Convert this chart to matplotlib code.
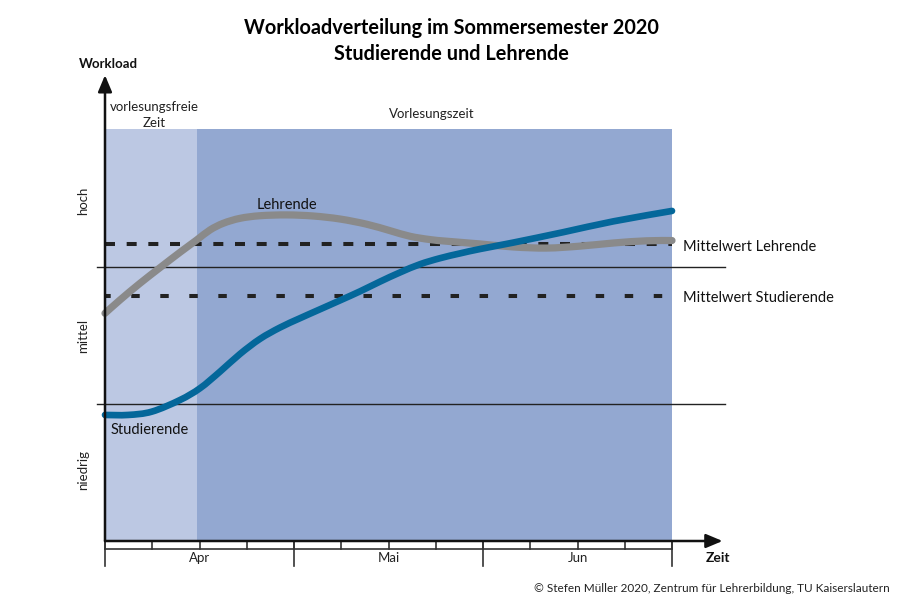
import matplotlib
matplotlib.use("Agg")
import matplotlib.pyplot as plt
from matplotlib.path import Path
from matplotlib.patches import PathPatch
import numpy as np

plt.rcParams['font.family'] = ['Lato', 'DejaVu Sans']
plt.rcParams['lines.scale_dashes'] = False

# ---- data (x in weeks, y in workload level units) ----
lehrende_x = [0, 0.317, 0.741, 1.164, 1.587, 1.941, 2.222, 2.504, 2.857, 3.280, 3.846,
              4.408, 4.974, 5.539, 6.032, 6.455, 6.878, 7.23, 7.94, 8.64, 9.35, 10.05,
              10.76, 11.46, 12.0]
lehrende_y = [1.662, 1.759, 1.881, 1.995, 2.107, 2.197, 2.270, 2.319, 2.355, 2.374, 2.380,
              2.372, 2.350, 2.312, 2.265, 2.224, 2.200, 2.188, 2.168, 2.146, 2.138, 2.152,
              2.175, 2.191, 2.193]

studierende_x = [0, 0.49, 0.99, 1.587, 2.011, 2.434, 2.857, 3.280, 3.704, 4.127, 4.550,
                 4.974, 5.397, 5.820, 6.243, 6.667, 7.090, 7.513, 7.937, 8.64, 9.70,
                 10.76, 12.0]
studierende_y = [0.920, 0.920, 0.944, 1.029, 1.115, 1.236, 1.365, 1.475, 1.558, 1.626, 1.691,
                 1.756, 1.822, 1.893, 1.960, 2.020, 2.064, 2.099, 2.131, 2.178, 2.254,
                 2.333, 2.409]

mittel_lehrende = 2.168
mittel_studierende = 1.788

level_lines = [1.0, 2.0]
level_labels = ['niedrig', 'mittel', 'hoch']
level_label_pos = [0.52, 1.5, 2.48]

weeks = list(range(13))
month_bounds = [0, 4, 8, 12]
months = ['Apr', 'Mai', 'Jun']
month_centers = [2, 6, 10]

frei_start, frei_end = 0, 1.95
vl_start, vl_end = 1.95, 12
top_level = 3.007


def smooth_path(xs, ys):
    """Smooth cubic Bezier path passing through the given points."""
    pts = np.column_stack([xs, ys]).astype(float)
    n = len(pts)
    verts = [pts[0]]
    codes = [Path.MOVETO]
    for i in range(n - 1):
        p_prev = pts[max(i - 1, 0)]
        p0 = pts[i]
        p1 = pts[i + 1]
        p_next = pts[min(i + 2, n - 1)]
        c1 = p0 + (p1 - p_prev) / 6.0
        c2 = p1 - (p_next - p0) / 6.0
        verts += [c1, c2, p1]
        codes += [Path.CURVE4] * 3
    return Path(np.array(verts), codes)


# ---- figure ----
W, H = 900, 600
fig = plt.figure(figsize=(9, 6), dpi=100)
x0, x1 = 105, 672
y0, y1 = 541, 129
ax = fig.add_axes([x0 / W, 1 - y0 / H, (x1 - x0) / W, (y0 - y1) / H])
ax.set_xlim(0, 12)
ax.set_ylim(0, top_level)
ax.set_axis_off()

light = '#bcc8e3'
dark = '#93a8d1'
blue = '#04679a'
gray = '#8a8a8a'

ax.axvspan(frei_start, frei_end, color=light, lw=0, zorder=0)
ax.axvspan(vl_start, vl_end, color=dark, lw=0, zorder=0)

# level lines
for lv in level_lines:
    ax.plot([-0.17, 13.12], [lv, lv], color='#222222', lw=1.0, clip_on=False, zorder=2)

# mean lines
ax.plot([0, 12], [mittel_lehrende] * 2, color='#222222', lw=2.9,
        linestyle=(0, (7.2, 8.4)), dash_capstyle='butt', zorder=3)
ax.plot([0, 12], [mittel_studierende] * 2, color='#222222', lw=2.9,
        linestyle=(2.0, (6.1, 14.8)), dash_capstyle='butt', zorder=3)

# curves
ax.add_patch(PathPatch(smooth_path(lehrende_x, lehrende_y), fill=False,
                       edgecolor=gray, lw=5.2, capstyle='round', joinstyle='round',
                       clip_on=False, zorder=4))
ax.add_patch(PathPatch(smooth_path(studierende_x, studierende_y), fill=False,
                       edgecolor=blue, lw=4.8, capstyle='round', joinstyle='round',
                       clip_on=False, zorder=5))

# axes arrows
ax.annotate('', xy=(0, 3.40), xytext=(0, 0), xycoords='data',
            arrowprops=dict(arrowstyle='-|>,head_length=1.0,head_width=0.42',
                            color='#111111', lw=1.8, shrinkA=0, shrinkB=0),
            annotation_clip=False, zorder=6)
ax.annotate('', xy=(13.07, 0), xytext=(0, 0), xycoords='data',
            arrowprops=dict(arrowstyle='-|>,head_length=1.0,head_width=0.42',
                            color='#111111', lw=1.8, shrinkA=0, shrinkB=0),
            annotation_clip=False, zorder=6)

# time tick rows
row_y = -0.058
month_y = -0.182
ax.plot([0, 12], [row_y, row_y], color='#333333', lw=1.2, clip_on=False)
for w in weeks:
    ax.plot([w, w], [0, row_y], color='#333333', lw=1.2, clip_on=False)
for m in month_bounds:
    ax.plot([m, m], [0, month_y], color='#333333', lw=1.2, clip_on=False)
for c, name in zip(month_centers, months):
    ax.text(c, -0.124, name, ha='center', va='center', fontsize=9.5, color='#222222')
ax.text(12.97, -0.124, 'Zeit', ha='center', va='center', fontsize=10,
        fontweight='bold', color='#111111')

# y level labels
for p, name in zip(level_label_pos, level_labels):
    ax.text(-0.47, p, name, ha='center', va='center', rotation=90, fontsize=9.5,
            color='#222222')
ax.text(0.08, 3.485, 'Workload', ha='center', va='center', fontsize=9.5,
        fontweight='bold', color='#111111')

# region labels
ax.text(1.04, 3.168, 'vorlesungsfreie', ha='center', va='center', fontsize=9.5, color='#222222')
ax.text(1.04, 3.051, 'Zeit', ha='center', va='center', fontsize=9.5, color='#222222')
ax.text(6.92, 3.117, 'Vorlesungszeit', ha='center', va='center', fontsize=9.5, color='#222222')

# curve labels
ax.text(3.85, 2.453, 'Lehrende', ha='center', va='center', fontsize=10.5, color='#111111')
ax.text(0.95, 0.810, 'Studierende', ha='center', va='center', fontsize=10.5, color='#111111')
ax.text(12.23, mittel_lehrende - 0.02, 'Mittelwert Lehrende', ha='left', va='center',
        fontsize=10.5, color='#111111')
ax.text(12.23, mittel_studierende - 0.015, 'Mittelwert Studierende', ha='left', va='center',
        fontsize=10.5, color='#111111')

# title and credit
fig.text(451 / W, 1 - 28 / H, 'Workloadverteilung im Sommersemester 2020',
         ha='center', va='center', fontsize=14.3, fontweight='bold')
fig.text(451 / W, 1 - 54 / H, 'Studierende und Lehrende',
         ha='center', va='center', fontsize=14.3, fontweight='bold')
fig.text(890 / W, 1 - 588 / H,
         '© Stefen Müller 2020, Zentrum für Lehrerbildung, TU Kaiserslautern',
         ha='right', va='center', fontsize=8.5, color='#222222')

fig.savefig('out.png', dpi=100, facecolor='white')
